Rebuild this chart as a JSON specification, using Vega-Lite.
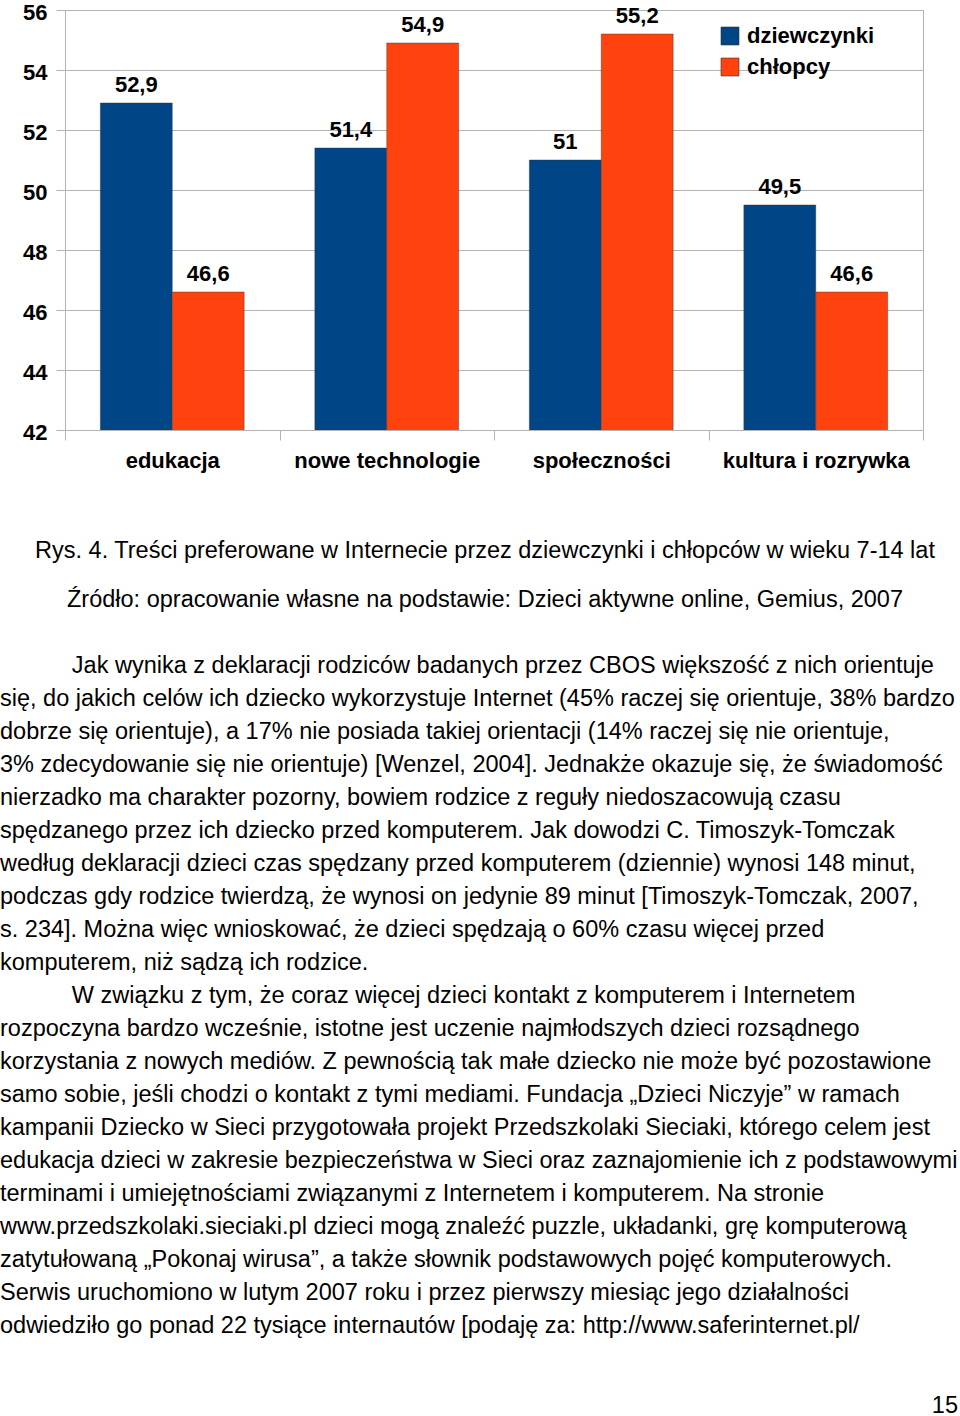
{
  "$schema": "https://vega.github.io/schema/vega-lite/v6.json",
  "background": "white",
  "padding": {"left": 0, "top": 0, "right": 0, "bottom": 0},
  "spacing": 42,
  "config": {
    "font": "Liberation Sans",
    "locale": {"number": {"decimal": ",", "thousands": "\u00a0", "grouping": [3], "currency": ["", " zł"]}}
  },
  "vconcat": [
    {
      "width": 858,
      "height": 420,
      "view": {"stroke": "#b3b3b3", "strokeWidth": 1},
      "title": {
        "text": [
          "Rys. 4. Treści preferowane w Internecie przez dziewczynki i chłopców w wieku 7-14 lat",
          "Źródło: opracowanie własne na podstawie: Dzieci aktywne online, Gemius, 2007"
        ],
        "orient": "bottom",
        "anchor": "middle",
        "frame": "group",
        "dx": -9,
        "font": "Liberation Sans",
        "fontSize": 23.5,
        "fontWeight": "normal",
        "color": "black",
        "lineHeight": 49,
        "offset": 68
      },
      "data": {
        "values": [
          {"category": "edukacja", "group": "dziewczynki", "value": 52.9},
          {"category": "edukacja", "group": "chłopcy", "value": 46.6},
          {"category": "nowe technologie", "group": "dziewczynki", "value": 51.4},
          {"category": "nowe technologie", "group": "chłopcy", "value": 54.9},
          {"category": "społeczności", "group": "dziewczynki", "value": 51},
          {"category": "społeczności", "group": "chłopcy", "value": 55.2},
          {"category": "kultura i rozrywka", "group": "dziewczynki", "value": 49.5},
          {"category": "kultura i rozrywka", "group": "chłopcy", "value": 46.6}
        ]
      },
      "encoding": {
        "x": {
          "field": "category",
          "type": "nominal",
          "sort": ["edukacja", "nowe technologie", "społeczności", "kultura i rozrywka"],
          "scale": {"paddingInner": 0, "paddingOuter": 0},
          "axis": {
            "title": null,
            "labelAngle": 0,
            "labelFont": "Liberation Sans",
            "labelFontSize": 22,
            "labelFontWeight": "bold",
            "labelColor": "black",
            "labelPadding": 10,
            "labelLimit": 0,
            "labelOverlap": false,
            "domainColor": "#b3b3b3",
            "tickColor": "#b3b3b3",
            "tickSize": 10,
            "tickBand": "extent",
            "grid": false
          }
        },
        "xOffset": {
          "field": "group",
          "type": "nominal",
          "sort": ["dziewczynki", "chłopcy"],
          "scale": {"paddingInner": 0, "paddingOuter": 0.4916}
        },
        "y": {
          "field": "value",
          "type": "quantitative",
          "scale": {"domain": [42, 56], "zero": false, "nice": false},
          "axis": {
            "title": null,
            "values": [42, 44, 46, 48, 50, 52, 54, 56],
            "labelFont": "Liberation Sans",
            "labelFontSize": 22,
            "labelFontWeight": "bold",
            "labelColor": "black",
            "labelPadding": 9,
            "labelOffset": 2,
            "tickSize": 9,
            "tickColor": "#b3b3b3",
            "gridColor": "#b3b3b3",
            "domainColor": "#b3b3b3",
            "minExtent": 64,
            "maxExtent": 64
          }
        }
      },
      "layer": [
        {
          "mark": {"type": "bar", "clip": true, "stroke": "#333333", "strokeWidth": 0.6, "strokeOpacity": 0.7},
          "encoding": {
            "color": {
              "field": "group",
              "type": "nominal",
              "scale": {"domain": ["dziewczynki", "chłopcy"], "range": ["#004586", "#ff420e"]},
              "legend": {
                "title": null,
                "orient": "none",
                "legendX": 654,
                "legendY": 15,
                "padding": 0,
                "symbolType": "square",
                "symbolSize": 324,
                "symbolStrokeColor": "#333333",
                "symbolStrokeWidth": 0.6,
                "symbolOpacity": 1,
                "labelFont": "Liberation Sans",
                "labelFontSize": 22,
                "labelFontWeight": "bold",
                "labelColor": "black",
                "labelOffset": 6,
                "rowPadding": 9
              }
            }
          }
        },
        {
          "mark": {"type": "text", "dy": -11, "baseline": "alphabetic", "font": "Liberation Sans", "fontSize": 22, "fontWeight": "bold", "color": "black"},
          "encoding": {
            "text": {"field": "value", "type": "quantitative", "format": ".1~f"}
          }
        }
      ]
    },
    {
      "width": 893,
      "height": 660,
      "view": {"stroke": null},
      "title": {
        "text": "15",
        "orient": "bottom",
        "anchor": "end",
        "frame": "group",
        "font": "Liberation Sans",
        "fontSize": 23.5,
        "fontWeight": "normal",
        "color": "black",
        "offset": 56
      },
      "data": {
        "values": [
          {"line": 1, "text": "\u200b\u00a0\u00a0\u00a0\u00a0\u00a0\u00a0\u00a0\u00a0\u00a0\u00a0\u00a0Jak wynika z deklaracji rodziców badanych przez CBOS większość z nich orientuje"},
          {"line": 2, "text": "się, do jakich celów ich dziecko wykorzystuje Internet (45% raczej się orientuje, 38% bardzo"},
          {"line": 3, "text": "dobrze się orientuje), a 17% nie posiada takiej orientacji (14% raczej się nie orientuje,"},
          {"line": 4, "text": "3% zdecydowanie się nie orientuje) [Wenzel, 2004]. Jednakże okazuje się, że świadomość"},
          {"line": 5, "text": "nierzadko ma charakter pozorny, bowiem rodzice z reguły niedoszacowują czasu"},
          {"line": 6, "text": "spędzanego przez ich dziecko przed komputerem. Jak dowodzi C. Timoszyk-Tomczak"},
          {"line": 7, "text": "według deklaracji dzieci czas spędzany przed komputerem (dziennie) wynosi 148 minut,"},
          {"line": 8, "text": "podczas gdy rodzice twierdzą, że wynosi on jedynie 89 minut [Timoszyk-Tomczak, 2007,"},
          {"line": 9, "text": "s. 234]. Można więc wnioskować, że dzieci spędzają o 60% czasu więcej przed"},
          {"line": 10, "text": "komputerem, niż sądzą ich rodzice."},
          {"line": 11, "text": "\u200b\u00a0\u00a0\u00a0\u00a0\u00a0\u00a0\u00a0\u00a0\u00a0\u00a0\u00a0W związku z tym, że coraz więcej dzieci kontakt z komputerem i Internetem"},
          {"line": 12, "text": "rozpoczyna bardzo wcześnie, istotne jest uczenie najmłodszych dzieci rozsądnego"},
          {"line": 13, "text": "korzystania z nowych mediów. Z pewnością tak małe dziecko nie może być pozostawione"},
          {"line": 14, "text": "samo sobie, jeśli chodzi o kontakt z tymi mediami. Fundacja „Dzieci Niczyje” w ramach"},
          {"line": 15, "text": "kampanii Dziecko w Sieci przygotowała projekt Przedszkolaki Sieciaki, którego celem jest"},
          {"line": 16, "text": "edukacja dzieci w zakresie bezpieczeństwa w Sieci oraz zaznajomienie ich z podstawowymi"},
          {"line": 17, "text": "terminami i umiejętnościami związanymi z Internetem i komputerem. Na stronie"},
          {"line": 18, "text": "www.przedszkolaki.sieciaki.pl dzieci mogą znaleźć puzzle, układanki, grę komputerową"},
          {"line": 19, "text": "zatytułowaną „Pokonaj wirusa”, a także słownik podstawowych pojęć komputerowych."},
          {"line": 20, "text": "Serwis uruchomiono w lutym 2007 roku i przez pierwszy miesiąc jego działalności"},
          {"line": 21, "text": "odwiedziło go ponad 22 tysiące internautów [podaję za: http://www.saferinternet.pl/"}
        ]
      },
      "mark": {"type": "text", "align": "left", "baseline": "alphabetic", "dx": -65, "font": "Liberation Sans", "fontSize": 23.5, "color": "black"},
      "encoding": {
        "y": {"field": "line", "type": "ordinal", "scale": {"type": "point", "padding": 0}, "axis": null},
        "x": {"datum": 0, "type": "quantitative", "scale": {"domain": [0, 1]}, "axis": null},
        "text": {"field": "text", "type": "nominal"}
      }
    }
  ]
}
